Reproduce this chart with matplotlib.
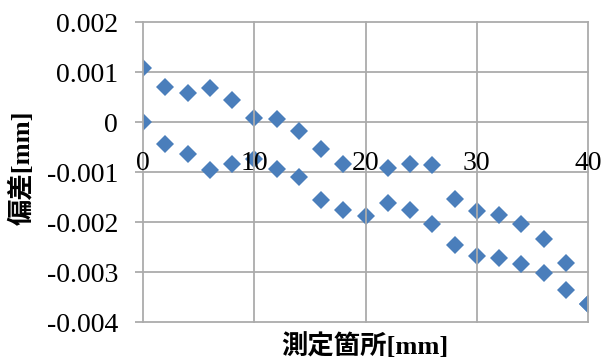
import numpy as np
import matplotlib
matplotlib.use('Agg')
import matplotlib.pyplot as plt

plt.rcParams['font.family'] = ['Liberation Serif', 'Noto Sans CJK JP']

# 測定箇所 [mm]
pos = [0, 2, 4, 6, 8, 10, 12, 14, 16, 18, 20, 22, 24, 26, 28, 30, 32, 34, 36, 38, 40]
# 偏差 [mm] 1回目 (x=20 は欠測)
dev1 = [0.00108, 0.00071, 0.00059, 0.00069, 0.00044, 0.00009, 0.00007, -0.00017,
        -0.00053, -0.00083, np.nan, -0.00091, -0.00083, -0.00085, -0.00154, -0.00178,
        -0.00185, -0.00204, -0.00233, -0.00281, -0.00364]
# 偏差 [mm] 2回目
dev2 = [0.0, -0.00043, -0.00064, -0.00095, -0.00084, -0.00073, -0.00093, -0.00109,
        -0.00156, -0.00175, -0.00188, -0.00161, -0.00175, -0.00204, -0.00246, -0.00268,
        -0.00271, -0.00284, -0.00301, -0.00335, -0.00364]

xticks = [0, 10, 20, 30, 40]
yticks = [-0.004, -0.003, -0.002, -0.001, 0, 0.001, 0.002]
ylabels = ['-0.004', '-0.003', '-0.002', '-0.001', '0', '0.001', '0.002']

grid_c = '#ABABAB'
blue = '#4A7EBB'

fig = plt.figure(figsize=(6.08, 3.6), dpi=100)
ax = fig.add_axes([143 / 608, 1 - 322 / 360, 445 / 608, 300 / 360])

ax.plot(pos, dev1, 'D', color=blue, markersize=9.5, markeredgewidth=0, zorder=3)
ax.plot(pos, dev2, 'D', color=blue, markersize=9.5, markeredgewidth=0, zorder=3)

ax.set_xlim(0, 40)
ax.set_ylim(-0.004, 0.002)
ax.set_xticks(xticks)
ax.set_yticks(yticks)
ax.set_yticklabels(ylabels)

for s in ax.spines.values():
    s.set_visible(False)
# 横軸は y=0 の位置に置く
ax.spines['bottom'].set_position(('data', 0))

ax.grid(True, color=grid_c, linewidth=1.3)
ax.set_axisbelow(True)
for gl in ax.get_xgridlines() + ax.get_ygridlines():
    gl.set_clip_on(False)

ax.tick_params(axis='y', direction='out', length=6, width=1.3, color=grid_c,
               pad=12, labelsize=20)
ax.tick_params(axis='x', length=0, pad=21, labelsize=20)
ax.xaxis.set_zorder(5)

fig.text(365 / 608, 1 - 346 / 360, '測定箇所[mm]', ha='center', va='center',
         fontsize=19, fontweight='bold')
fig.text(22 / 608, 1 - 168 / 360, '偏差[mm]', ha='center', va='center',
         rotation=90, fontsize=19, fontweight='bold')

fig.savefig('out.png', dpi=100)
